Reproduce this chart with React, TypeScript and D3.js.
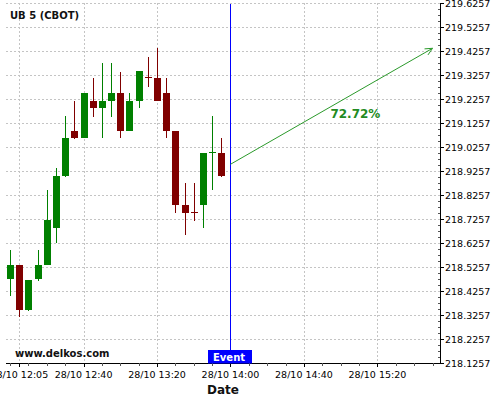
import React from "react";
import * as d3 from "d3";

const title = "UB 5 (CBOT)";
const watermark = "www.delkos.com";
const xAxisTitle = "Date";
const eventLabel = "Event";
const probabilityLabel = "72.72%";

const candleTimes = [
  "12:00", "12:05", "12:10", "12:15", "12:20", "12:25", "12:30", "12:35",
  "12:40", "12:45", "12:50", "12:55", "13:00", "13:05", "13:10", "13:15",
  "13:20", "13:25", "13:30", "13:35", "13:40", "13:45", "13:50", "13:55",
];
const opens = [
  218.4757, 218.5353, 218.349, 218.4757, 218.5353, 218.6907, 218.9074, 219.0936,
  219.0657, 219.2186, 219.1907, 219.2186, 219.2519, 219.0936, 219.2186, 219.3174,
  219.3132, 219.2519, 219.0936, 218.7853, 218.7549, 218.7853, 219.0019, 219.0019,
];
const highs = [
  218.5978, 218.5353, 218.4743, 218.5978, 218.8478, 218.9382, 219.1561, 219.2186,
  219.2519, 219.3132, 219.3757, 219.3757, 219.3407, 219.2507, 219.3436, 219.4032,
  219.4382, 219.3132, 219.0936, 218.8757, 218.8757, 219.0019, 219.1561, 219.0657,
];
const lows = [
  218.4074, 218.3174, 218.3449, 218.4699, 218.5353, 218.6257, 218.9032, 219.0615,
  219.0657, 219.1532, 219.0657, 219.1532, 219.0657, 219.0936, 219.1882, 219.2782,
  219.2186, 219.0657, 218.7507, 218.6603, 218.7199, 218.6882, 218.8478, 218.9032,
];
const closes = [
  218.5353, 218.349, 218.4743, 218.5353, 218.7228, 218.9074, 219.0657, 219.0657,
  219.2519, 219.1907, 219.2186, 219.2519, 219.0936, 219.2186, 219.3436, 219.3174,
  219.2186, 219.0936, 218.7853, 218.7532, 218.7549, 219.0019, 219.0049, 218.9074,
];

const xTickTimes = ["12:05", "12:40", "13:20", "14:00", "14:40", "15:20"];
const xTickLabels = ["28/10 12:05", "28/10 12:40", "28/10 13:20", "28/10 14:00", "28/10 14:40", "28/10 15:20"];
const xMinorTickTimes = [
  "12:00", "12:10", "12:20", "12:30", "12:40", "12:50", "13:00", "13:10", "13:20", "13:30",
  "13:40", "13:50", "14:00", "14:10", "14:20", "14:30", "14:40", "14:50", "15:00", "15:10",
  "15:20", "15:30", "15:40", "15:50",
];
const yTickValues = [
  218.1257, 218.2257, 218.3257, 218.4257, 218.5257, 218.6257, 218.7257, 218.8257,
  218.9257, 219.0257, 219.1257, 219.2257, 219.3257, 219.4257, 219.5257, 219.6257,
];
const yTickLabels = [
  "218.1257", "218.2257", "218.3257", "218.4257", "218.5257", "218.6257", "218.7257", "218.8257",
  "218.9257", "219.0257", "219.1257", "219.2257", "219.3257", "219.4257", "219.5257", "219.6257",
];
const xDomain = ["11:57:45", "15:54:05"];
const yDomain = [218.1257, 219.6257];

const eventTime = "14:00";
const arrowStart = { time: "14:00", price: 218.955 };
const arrowEnd = { time: "15:50", price: 219.4382 };
const labelAnchor = { time: "15:08", price: 219.148 };

function t(s: string): Date {
  const p = s.split(":").map(Number);
  return new Date(2019, 9, 28, p[0], p[1], p[2] || 0);
}

const W = 500;
const H = 400;
const left = 6;
const right = 440;
const top = 3.3;
const bottom = 363.3;

const GREEN = "#008000";
const RED = "#800000";
const FONT = "DejaVu Sans, sans-serif";

export default function App() {
  const x = d3.scaleTime().domain([t(xDomain[0]), t(xDomain[1])]).range([left, right]);
  const y = d3.scaleLinear().domain(yDomain).range([bottom, top]);

  const yMinor: number[] = [];
  for (let i = 0; i < yTickValues.length - 1; i++) {
    for (let k = 1; k < 4; k++) yMinor.push(yTickValues[i] + (k * (yTickValues[i + 1] - yTickValues[i])) / 4);
  }

  const bodyW = 7;
  const ex = Math.round(x(t(eventTime))) + 0.5;

  const ax1 = x(t(arrowStart.time));
  const ay1 = y(arrowStart.price);
  const ax2 = x(t(arrowEnd.time));
  const ay2 = y(arrowEnd.price);
  const ang = Math.atan2(ay2 - ay1, ax2 - ax1);
  const ah = 8;
  const spread = 0.45;
  const h1 = [ax2 - ah * Math.cos(ang - spread), ay2 - ah * Math.sin(ang - spread)];
  const h2 = [ax2 - ah * Math.cos(ang + spread), ay2 - ah * Math.sin(ang + spread)];

  return (
    <svg width={W} height={H} style={{ position: "absolute", left: 0, top: 0, background: "#fff" }} fontFamily={FONT}>
      <rect x={0} y={0} width={W} height={H} fill="#fff" />
      {/* grid */}
      <g stroke="#c4c4c4" strokeWidth={1} strokeDasharray="2,2" shapeRendering="crispEdges">
        {yTickValues.map((v, i) => (
          <line key={"gy" + i} x1={left} x2={right} y1={Math.round(y(v)) + 0.5} y2={Math.round(y(v)) + 0.5} />
        ))}
        {xTickTimes.map((s, i) => (
          <line key={"gx" + i} x1={Math.round(x(t(s))) + 0.5} x2={Math.round(x(t(s))) + 0.5} y1={top} y2={bottom} />
        ))}
      </g>

      {/* candles */}
      <g shapeRendering="crispEdges">
        {candleTimes.map((s, i) => {
          const cx = Math.round(x(t(s)));
          const o = opens[i];
          const c = closes[i];
          const col = c > o ? GREEN : RED;
          const yTop = y(Math.max(o, c));
          const yBot = y(Math.min(o, c));
          const hgt = yBot - yTop;
          return (
            <g key={"c" + i}>
              <line x1={cx + 0.5} x2={cx + 0.5} y1={y(highs[i])} y2={y(lows[i])} stroke={col} strokeWidth={1} />
              {hgt >= 2 ? (
                <rect x={cx - 3} y={yTop} width={bodyW} height={hgt} fill={col} />
              ) : (
                <line x1={cx - 3} x2={cx + 4} y1={Math.round(yTop) + 0.5} y2={Math.round(yTop) + 0.5} stroke={col} strokeWidth={1.5} />
              )}
            </g>
          );
        })}
      </g>

      {/* axes */}
      <g stroke="#000" strokeWidth={1} shapeRendering="crispEdges">
        <line x1={left} x2={right} y1={Math.round(bottom) + 0.5} y2={Math.round(bottom) + 0.5} />
        <line x1={right + 0.5} x2={right + 0.5} y1={top} y2={bottom + 1} />
        {yTickValues.map((v, i) => (
          <line key={"ty" + i} x1={right} x2={right + 4} y1={Math.round(y(v)) + 0.5} y2={Math.round(y(v)) + 0.5} />
        ))}
        {yMinor.map((v, i) => (
          <line key={"tym" + i} x1={right - 2} x2={right} y1={Math.round(y(v)) + 0.5} y2={Math.round(y(v)) + 0.5} stroke="#555" />
        ))}
        {xMinorTickTimes.map((s, i) => (
          <line key={"txm" + i} x1={Math.round(x(t(s))) + 0.5} x2={Math.round(x(t(s))) + 0.5} y1={bottom} y2={bottom + 3} stroke="#555" />
        ))}
        {xTickTimes.map((s, i) => (
          <line key={"tx" + i} x1={Math.round(x(t(s))) + 0.5} x2={Math.round(x(t(s))) + 0.5} y1={bottom} y2={bottom + 4} />
        ))}
      </g>
      <g fontSize={9.5} fill="#000">
        {yTickValues.map((v, i) => (
          <text key={"ly" + i} x={right + 5} y={y(v) + 3.5}>
            {yTickLabels[i]}
          </text>
        ))}
        {xTickTimes.map((s, i) => (
          <text key={"lx" + i} x={x(t(s))} y={378} textAnchor="middle">
            {xTickLabels[i]}
          </text>
        ))}
      </g>
      <text x={(left + right) / 2} y={394} textAnchor="middle" fontSize={12} fontWeight="bold" fill="#111">
        {xAxisTitle}
      </text>

      {/* event */}
      <line x1={ex} x2={ex} y1={top + 1} y2={bottom} stroke="#0000ff" strokeWidth={1} shapeRendering="crispEdges" />
      <rect x={ex - 22.5} y={350} width={44} height={13.5} fill="#0000ff" />
      <text x={ex - 17.5} y={360.5} fontSize={10} fontWeight="bold" fill="#fff">
        {eventLabel}
      </text>

      {/* arrow */}
      <g stroke="#2b9a2b" strokeWidth={1} fill="none">
        <line x1={ax1} y1={ay1} x2={ax2} y2={ay2} />
        <polyline points={`${h1[0]},${h1[1]} ${ax2},${ay2} ${h2[0]},${h2[1]}`} />
      </g>
      <text x={x(t(labelAnchor.time))} y={y(labelAnchor.price)} textAnchor="middle" fontSize={12} fontWeight="bold" fill="#228b22">
        {probabilityLabel}
      </text>

      {/* titles */}
      <text x={10} y={19} fontSize={10} fontWeight="bold" fill="#111">
        {title}
      </text>
      <text x={15} y={357} fontSize={10} fontWeight="bold" fill="#111">
        {watermark}
      </text>
    </svg>
  );
}
